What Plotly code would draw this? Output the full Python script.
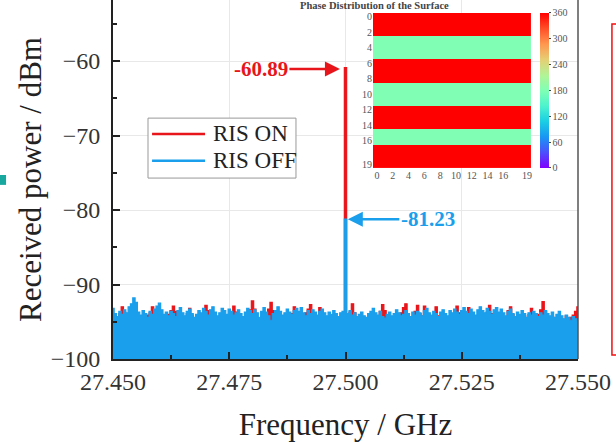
import numpy as np
import plotly.graph_objects as go

# ---------------- data ----------------
ris_off = [
    -93.2, -93.9, -94.3, -93.6, -94.0, -93.4, -93.8, -93.0, -92.6, -91.8,
    -92.4, -93.7, -94.1, -93.5, -93.9, -94.4, -93.6, -94.0, -93.3, -92.9,
    -92.5, -93.4, -94.0, -93.7, -94.2, -93.6, -93.9, -94.3, -93.5, -93.1,
    -93.8, -94.2, -93.6, -93.3, -93.9, -94.4, -94.0, -93.5, -93.8, -93.2,
    -93.6, -94.1, -93.4, -93.0, -93.7, -94.2, -93.8, -93.2, -93.5, -94.0,
    -93.3, -93.6, -94.1, -93.8, -93.4, -93.9, -94.3, -93.7, -93.2, -93.5,
    -93.9, -93.4, -93.8, -94.4, -93.6, -93.1, -93.7, -94.2, -94.8, -93.9,
    -93.5, -93.0, -93.6, -94.1, -93.8, -93.3, -93.7, -94.0, -93.5, -93.2,
    -93.6, -93.1, -93.8, -94.2, -93.5, -93.9, -93.4, -93.7, -94.1, -93.6,
    -93.3, -93.8, -94.2, -93.7, -94.0, -93.5, -93.9, -94.3, -93.8, -93.6,
    -81.23,
    -93.9, -93.5, -94.1, -93.8, -94.3, -94.0, -93.7, -94.2, -94.4, -93.9,
    -93.6, -93.2, -93.8, -94.1, -93.6, -94.3, -94.5, -94.0, -93.7, -94.2,
    -93.9, -93.4, -93.8, -94.2, -94.0, -93.5, -93.9, -94.3, -93.7, -94.1,
    -93.6, -93.8, -94.2, -93.5, -93.2, -93.8, -94.1, -93.6, -93.9, -94.3,
    -93.7, -93.4, -93.9, -94.2, -93.5, -93.8, -93.3, -93.7, -94.0, -93.5,
    -93.1, -93.6, -93.9, -93.3, -93.7, -94.1, -93.4, -93.0, -93.5, -93.8,
    -93.2, -93.6, -94.0, -93.4, -93.1, -93.7, -93.3, -93.8, -94.2, -93.6,
    -93.3, -93.9, -94.3, -93.7, -94.0, -93.5, -93.9, -94.4, -93.8, -94.1,
    -93.6, -93.9, -94.3, -93.8, -94.1, -93.5, -93.9, -94.2, -93.7, -94.4,
    -94.0, -93.6, -94.2, -94.6, -94.1, -94.4, -94.8, -94.3, -94.6, -94.9,
]
ris_on = [
    -94.8, -94.3, -94.6, -93.9, -93.0, -93.7, -94.9, -94.5, -94.8, -94.2,
    -94.7, -95.0, -94.4, -94.8, -94.5, -94.1, -93.8, -93.0, -93.6, -94.6,
    -94.3, -94.9, -94.6, -94.2, -94.0, -93.5, -92.9, -93.6, -94.7, -94.4,
    -94.9, -94.5, -93.9, -93.2, -94.1, -94.8, -94.4, -94.9, -94.6, -94.0,
    -92.8, -93.5, -94.6, -94.9, -94.3, -94.7, -95.0, -94.5, -94.8, -94.2,
    -94.6, -93.8, -92.9, -93.7, -94.5, -94.9, -94.4, -94.7, -94.1, -93.4,
    -92.2, -93.3, -94.5, -94.8, -94.3, -94.7, -94.2, -93.3, -92.4, -93.5,
    -94.6, -94.9, -94.5, -94.8, -94.3, -94.7, -94.4, -93.9, -93.0, -94.1,
    -94.6, -94.9, -94.5, -93.8, -93.3, -92.7, -93.9, -94.6, -94.2, -93.1,
    -94.0, -94.7, -94.4, -94.9, -94.6, -94.8, -94.3, -94.7, -94.5, -94.9,
    -60.89,
    -94.6, -93.7, -92.6, -93.8, -94.8, -94.5, -94.9, -94.6, -94.8, -94.4,
    -94.7, -94.3, -94.9, -94.5, -93.6, -92.7, -93.5, -94.6, -94.9, -94.4,
    -94.7, -94.5, -94.8, -93.8, -93.1, -92.6, -94.0, -94.7, -94.3, -93.6,
    -92.8, -93.9, -94.2, -92.9, -94.1, -94.7, -94.4, -94.8, -93.0, -94.2,
    -94.7, -94.4, -94.8, -94.5, -94.9, -94.3, -93.6, -92.9, -93.8, -94.6,
    -94.4, -94.0, -93.1, -94.2, -94.7, -94.5, -94.9, -94.3, -93.9, -94.6,
    -93.7, -92.8, -93.9, -94.6, -94.4, -94.8, -94.5, -94.9, -94.3, -93.5,
    -93.0, -94.0, -94.7, -94.4, -94.8, -94.5, -94.2, -94.7, -94.0, -93.2,
    -94.3, -94.7, -94.0, -93.4, -92.3, -93.6, -94.5, -94.8, -94.3, -94.7,
    -94.5, -94.9, -94.6, -94.8, -94.2, -94.7, -94.4, -94.1, -93.6, -93.0,
]
assert len(ris_off) == 201 and len(ris_on) == 201
freq_start, freq_stop = 27.450, 27.550
freq = np.linspace(freq_start, freq_stop, len(ris_on))
floor_level = -100
peak_freq = 27.500
peak_on = -60.89
peak_off = -81.23
series_names = ["RIS ON", "RIS OFF"]

# inset: phase (deg) of each row of the 20x20 surface
row_phase = [360, 360, 360, 180, 180, 180, 360, 360, 360, 180,
             180, 180, 360, 360, 360, 180, 180, 360, 360, 360]
n_cols = 20
phase_ticks = [0, 2, 4, 6, 8, 10, 12, 14, 16, 19]
cbar_ticks = [0, 60, 120, 180, 240, 300, 360]

RED = "#e8161b"
BLUE = "#1a9fec"
FONT = "Liberation Serif"

# rainbow colormap (matplotlib-style)
cs = []
for t in np.linspace(0, 1, 11):
    r = min(1, abs(2 * t - 0.5)); g = np.sin(np.pi * t); b = np.cos(np.pi * t / 2)
    cs.append([float(t), "rgb(%d,%d,%d)" % (round(r * 255), round(g * 255), round(max(b, 0) * 255))])

fig = go.Figure()
base = [floor_level] * len(freq)
fig.add_trace(go.Scatter(x=freq, y=base, mode="lines", line=dict(width=0, color=RED),
                         showlegend=False, hoverinfo="skip"))
fig.add_trace(go.Scatter(x=freq, y=ris_on, mode="lines", line=dict(color=RED, width=1.2, shape="hvh"),
                         fill="tonexty", fillcolor=RED, showlegend=False, name=series_names[0]))
fig.add_trace(go.Scatter(x=freq, y=base, mode="lines", line=dict(width=0, color=BLUE),
                         showlegend=False, hoverinfo="skip"))
fig.add_trace(go.Scatter(x=freq, y=ris_off, mode="lines", line=dict(color=BLUE, width=1.2, shape="hvh"),
                         fill="tonexty", fillcolor=BLUE, showlegend=False, name=series_names[1]))

# inset heatmap
z = [[p] * n_cols for p in row_phase]
fig.add_trace(go.Heatmap(
    z=z, x=list(range(n_cols)), y=list(range(len(row_phase))), xaxis="x2", yaxis="y2",
    zmin=0, zmax=360, colorscale=cs, showlegend=False,
    colorbar=dict(x=0.918, xanchor="left", y=0.748, yanchor="middle", len=155, lenmode="pixels",
                  thickness=9, thicknessmode="pixels", outlinewidth=0, tickvals=cbar_ticks,
                  ticks="outside", ticklen=2, tickfont=dict(family=FONT, size=10, color="#555"),
                  xpad=0, ypad=0),
))

fig.update_layout(
    width=616, height=442, margin=dict(l=113, r=38, t=0, b=83, autoexpand=False),
    paper_bgcolor="white", plot_bgcolor="white",
    font=dict(family=FONT, color="#333"),
    xaxis=dict(range=[freq_start, freq_stop], tick0=27.45, dtick=0.025, tickformat=".3f",
               showline=True, linecolor="#222", linewidth=2, ticks="inside", ticklen=7, tickwidth=1.5,
               tickcolor="#222", showgrid=True, gridcolor="#e8e8e8", gridwidth=1,
               tickfont=dict(size=24, color="#333"), zeroline=False, automargin=False,
               minor=dict(ticks="inside", ticklen=4, dtick=0.0125, tickcolor="#222", showgrid=False),
               title=dict(text="Frequency / GHz", font=dict(size=31, color="#222"), standoff=22)),
    yaxis=dict(range=[-100, -51.81], dtick=10, showline=True, linecolor="#222", linewidth=2,
               ticks="inside", ticklen=7, tickwidth=1.5, tickcolor="#222", automargin=False,
               showgrid=True, gridcolor="#e8e8e8", gridwidth=1, zeroline=False,
               tickfont=dict(size=24, color="#333"), ticklabelstandoff=6,
               minor=dict(ticks="inside", ticklen=4, dtick=5, tickcolor="#222", showgrid=False),
               title=dict(text="Received power / dBm", font=dict(size=31, color="#222"), standoff=0)),
    xaxis2=dict(domain=[0.559, 0.899], anchor="y2", tickvals=phase_ticks, ticks="", automargin=False,
                tickfont=dict(size=10, color="#555"), showgrid=False, zeroline=False, showline=False),
    yaxis2=dict(domain=[0.532, 0.964], anchor="x2", tickvals=phase_ticks, autorange="reversed",
                ticks="", tickfont=dict(size=10, color="#555"), showgrid=False, zeroline=False,
                showline=False, automargin=False),
    showlegend=False,
)

# legend box (drawn: box, line samples, labels)
fig.add_shape(type="rect", xref="paper", yref="paper", x0=0.0753, x1=0.3935, y0=0.504, y1=0.671,
              line=dict(color="#999", width=1), fillcolor="white", layer="above")
for name, col, yy in [(series_names[0], RED, 0.627), (series_names[1], BLUE, 0.552)]:
    fig.add_shape(type="line", xref="paper", yref="paper", x0=0.084, x1=0.198, y0=yy, y1=yy,
                  line=dict(color=col, width=2.5), layer="above")
    fig.add_annotation(x=0.211, y=yy, xref="paper", yref="paper", text=name, showarrow=False,
                       xanchor="left", yanchor="middle", font=dict(size=23, color="#222", family=FONT))

# right frame line, red box at far right, teal mark at left
fig.add_shape(type="line", xref="paper", yref="paper", x0=1, x1=1, y0=0, y1=1,
              line=dict(color="#555", width=1.5))
fig.add_shape(type="rect", xref="paper", yref="paper", x0=1.073, x1=1.3, y0=0.011, y1=0.933,
              line=dict(color="#ee1111", width=1.5))
fig.add_shape(type="rect", xref="paper", yref="paper", x0=-0.243, x1=-0.230, y0=0.485, y1=0.5125,
              line=dict(width=0), fillcolor="#19a89f")

# annotations
fig.add_annotation(x=peak_freq - 0.0012, y=peak_on - 0.18, xref="x", yref="y", text="<b>-60.89</b>",
                   showarrow=True, ax=-79, ay=0, arrowcolor=RED, arrowhead=2, arrowsize=1.2, arrowwidth=2.5,
                   font=dict(size=21, color=RED, family=FONT))
fig.add_annotation(x=peak_freq + 0.0005, y=peak_off, xref="x", yref="y", text="<b>-81.23</b>",
                   showarrow=True, ax=80, ay=0, arrowcolor=BLUE, arrowhead=2, arrowsize=1.2, arrowwidth=2.5,
                   font=dict(size=21, color=BLUE, family=FONT))
fig.add_annotation(x=0.727, y=0.986, xref="paper", yref="paper", text="<b>Phase Distribution of the Surface</b>",
                   showarrow=False, font=dict(size=10.5, color="#444", family=FONT), yanchor="middle")

fig.write_html("out.html", config={"displayModeBar": False},
               post_script="document.body.style.margin='0px';")
